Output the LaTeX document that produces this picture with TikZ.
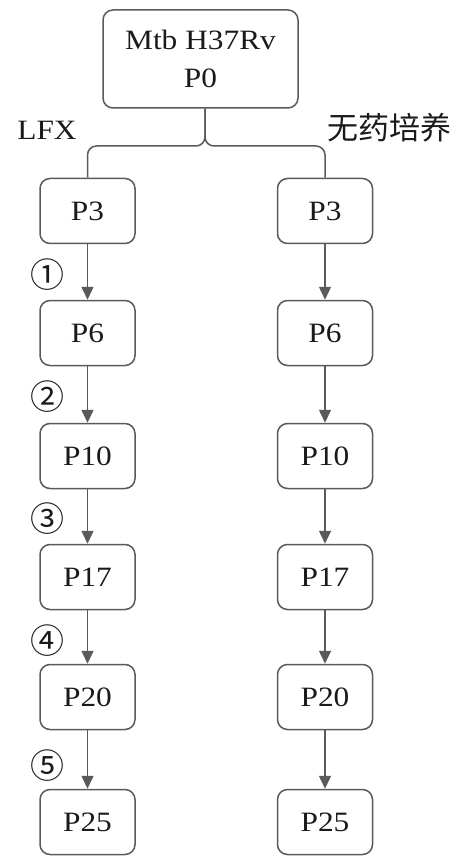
\documentclass[tikz,border=0pt]{standalone}
\usepackage{fontspec}
\setmainfont[FakeStretch=1.12]{Liberation Serif}
\newfontfamily\cjk{Noto Sans CJK SC}
\usetikzlibrary{arrows.meta}
\definecolor{lc}{HTML}{5A5A5A}
\definecolor{tc}{HTML}{1A1A1A}
\begin{document}
\begin{tikzpicture}[x=1pt,y=-1pt,
  box/.style={draw=lc,line width=1.5pt,rounded corners=10pt,minimum width=95pt,minimum height=65pt,inner sep=0pt,text=tc,font=\fontsize{28}{33}\selectfont},
  topbox/.style={box,minimum width=195pt,minimum height=98pt,align=center,font=\fontsize{28}{38}\selectfont},
  arr/.style={draw=lc,line width=1.5pt,-{Triangle[length=13pt,width=12pt]}},
  lnk/.style={draw=lc,line width=1.5pt,rounded corners=9pt},
  num/.style={inner sep=0pt,text=tc,font=\cjk\fontsize{34}{34}\selectfont},
  lab/.style={inner sep=0pt,text=tc,font=\fontsize{28}{33}\selectfont}]
\useasboundingbox (0,0) rectangle (463,858);
\node[topbox] (p0) at (200.5,59) {Mtb H37Rv\\P0};
\node[lab] (lfx) at (47,130) {LFX};
\node[lab,font=\cjk\fontsize{31}{31}\selectfont] (nd) at (389,128) {无药培养};
\foreach \n/\y in {3/211,6/333,10/456,17/577,20/697,25/822}{
  \node[box] (l\n) at (87.5,\y) {P\n};
  \node[box] (r\n) at (325,\y) {P\n};
}
\coordinate (fork) at (205,146);
\draw[lnk] (p0.south -| fork) -- (fork) -- (fork -| l3.north) -- (l3.north);
\draw[lnk] (p0.south -| fork) -- (fork) -- (fork -| r3.north) -- (r3.north);
\foreach \a/\b in {3/6,6/10,10/17,17/20,20/25}{
  \draw[arr] (l\a) -- (l\b);
  \draw[arr] (r\a) -- (r\b);
}
\node[num] (c1) at (47,275) {①};
\node[num] (c2) at (47,397) {②};
\node[num] (c3) at (47,519) {③};
\node[num] (c4) at (47,641) {④};
\node[num] (c5) at (47,766) {⑤};
\end{tikzpicture}
\end{document}
